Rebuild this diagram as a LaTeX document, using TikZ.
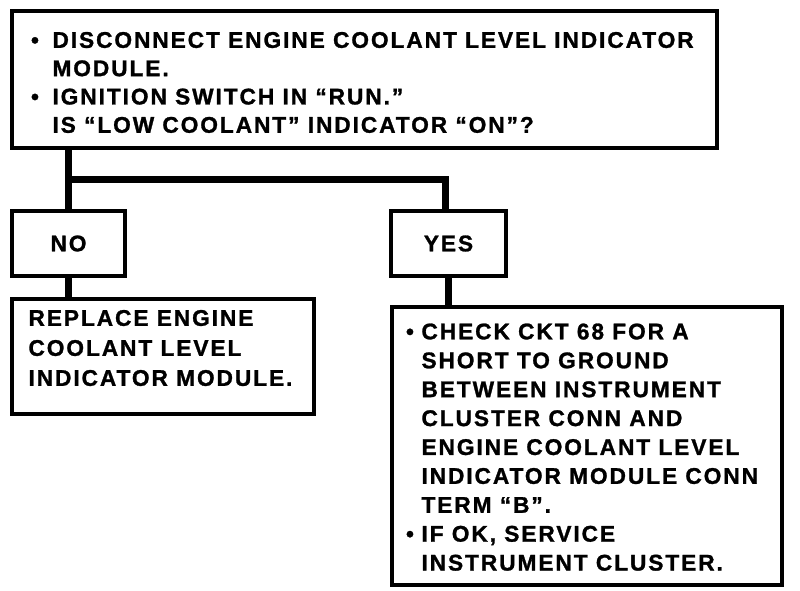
\documentclass[tikz,border=0pt]{standalone}
\usepackage{fontspec}
\newfontfamily\labfont{Liberation Sans}[LetterSpace=8.5,FakeBold=1.2]
\newcommand\boxtext[5]{\parbox[t][#2pt][t]{#1pt}{\vspace*{#3pt}\labfont\bfseries\fontsize{22.7pt}{#4pt}\selectfont #5}}
\newcommand\bul[3]{\hspace*{#1pt}\makebox[#2pt][l]{•}#3}
\newcommand\cont[3]{\hspace*{#1pt}\hspace*{#2pt}#3}
\tikzset{
  flowbox/.style={draw, line width=4pt, inner sep=0pt, anchor=north west},
  answer/.style={draw, line width=4pt, inner sep=0pt, anchor=north west,
    font=\labfont\bfseries\fontsize{22.7pt}{26pt}\selectfont},
  conn/.style={line width=7pt, line join=miter}
}
\begin{document}
\begin{tikzpicture}[x=1pt,y=-1pt]
\useasboundingbox (0,0) rectangle (800,590);
\node[flowbox] (top) at (10,9) {\boxtext{705}{137}{21}{28.3}{%
\bul{19}{21.5}{DISCONNECT ENGINE COOLANT LEVEL INDICATOR}\\
\cont{19}{21.5}{MODULE.}\\
\bul{19}{21.5}{IGNITION SWITCH IN “RUN.”}\\
\cont{19}{21.5}{IS “LOW COOLANT” INDICATOR “ON”?}}};
\node[answer, minimum width=113pt, minimum height=65pt] (no) at (10,209) {NO};
\node[answer, minimum width=115pt, minimum height=65pt] (yes) at (389,209) {YES};
\node[flowbox] (rep) at (10,297) {\boxtext{302}{115}{11}{30}{%
\hspace*{16.5pt}REPLACE ENGINE\\
\hspace*{16.5pt}COOLANT LEVEL\\
\hspace*{16.5pt}INDICATOR MODULE.}};
\node[flowbox] (chk) at (390,305) {\boxtext{390}{278}{16.5}{28.9}{%
\bul{14}{15.5}{CHECK CKT 68 FOR A}\\
\cont{14}{15.5}{SHORT TO GROUND}\\
\cont{14}{15.5}{BETWEEN INSTRUMENT}\\
\cont{14}{15.5}{CLUSTER CONN AND}\\
\cont{14}{15.5}{ENGINE COOLANT LEVEL}\\
\cont{14}{15.5}{INDICATOR MODULE CONN}\\
\cont{14}{15.5}{TERM “B”.}\\
\bul{14}{15.5}{IF OK, SERVICE}\\
\cont{14}{15.5}{INSTRUMENT CLUSTER.}}};
\path (no.north) ++(0,-30) coordinate (jl);
\draw[conn] (top.south -| no.north) -- (no.north);
\draw[conn] (jl) -| ([xshift=-3pt]yes.north);
\draw[conn] (no.south) -- (no.south |- rep.north);
\draw[conn] (yes.south) -- (yes.south |- chk.north);
\end{tikzpicture}
\end{document}
